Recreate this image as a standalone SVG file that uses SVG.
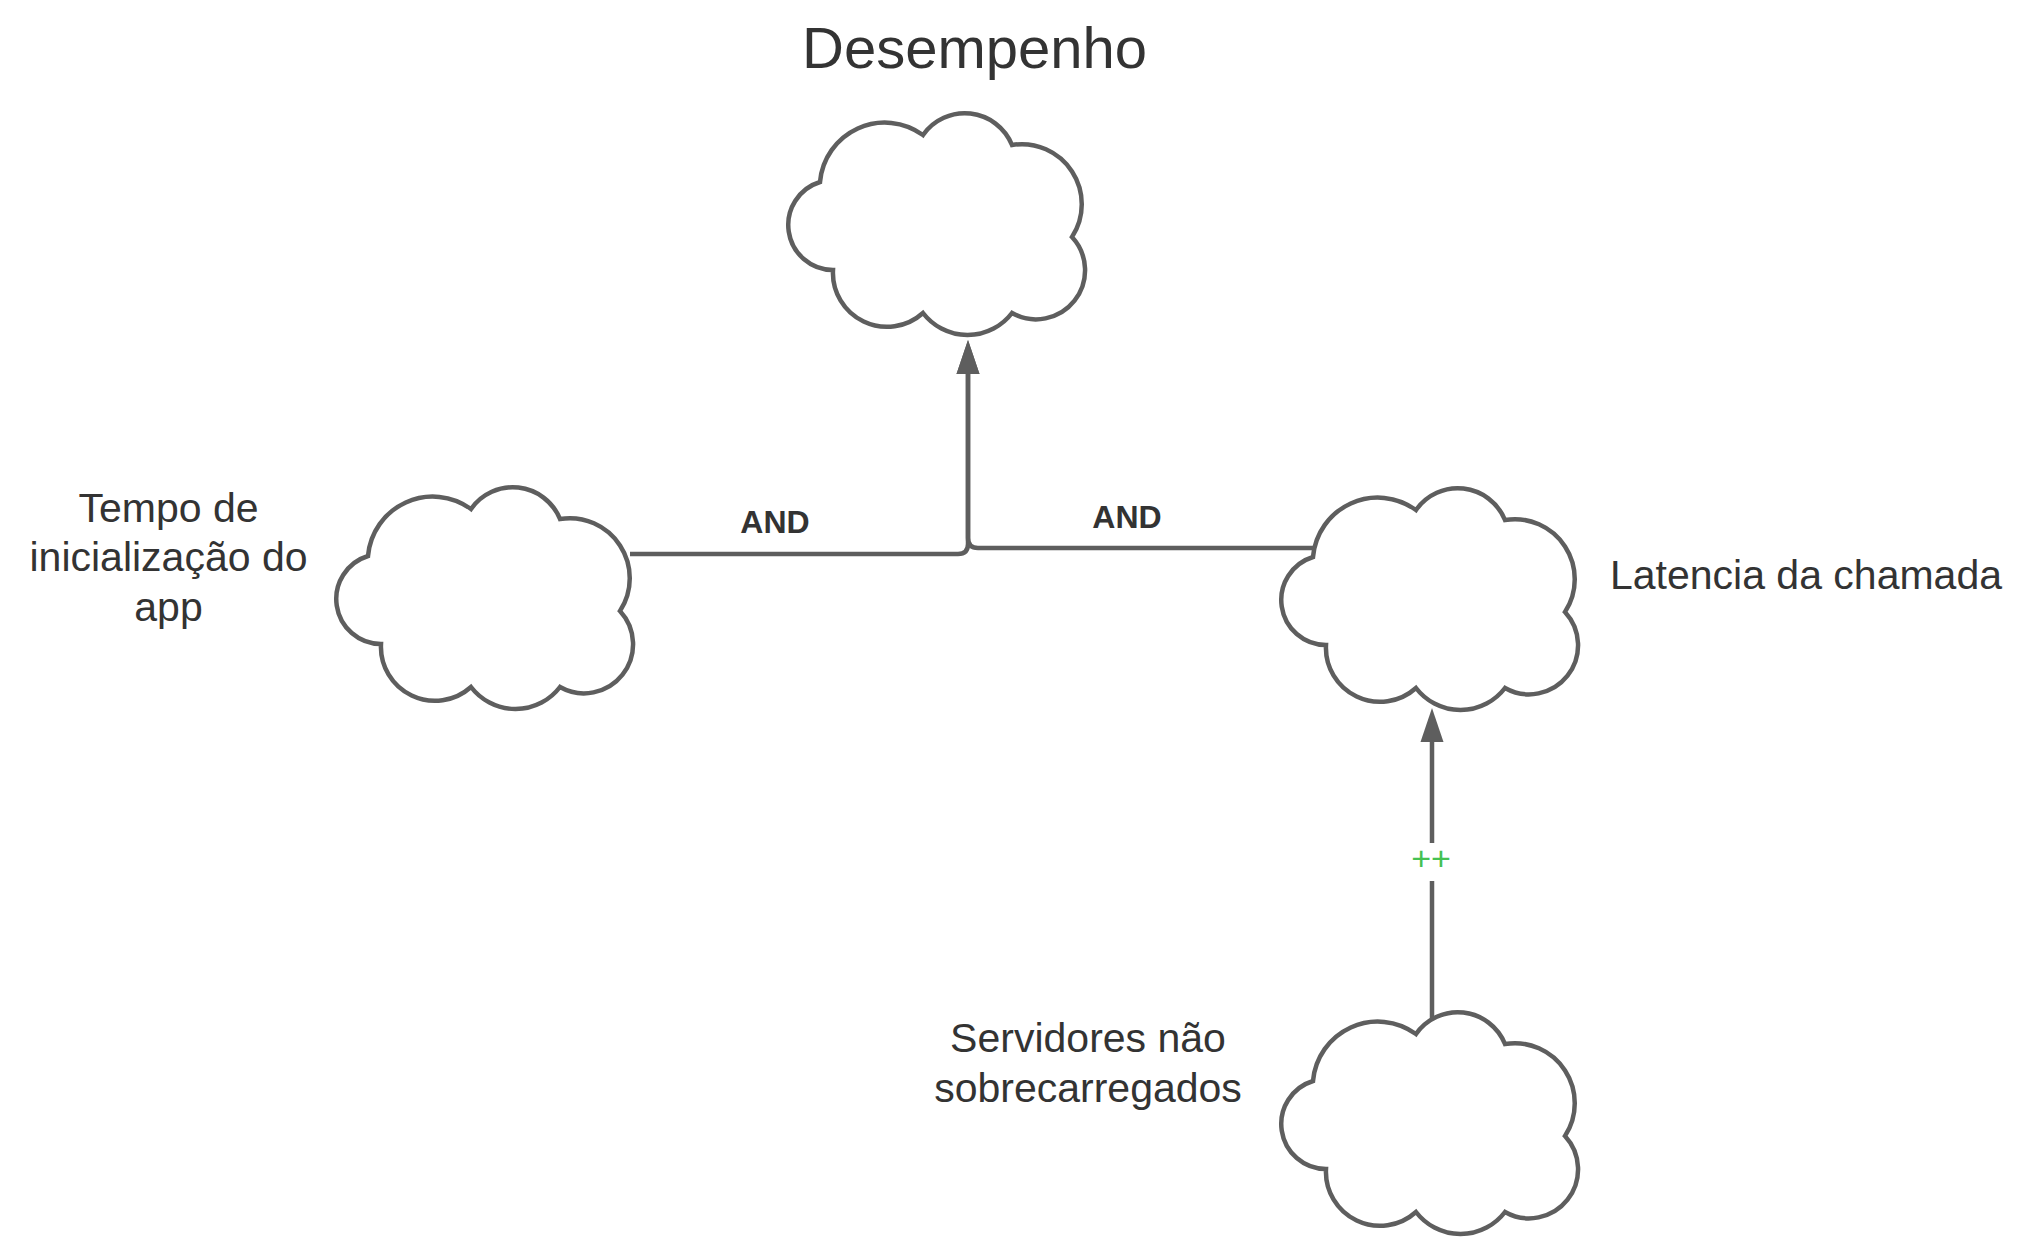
<svg xmlns="http://www.w3.org/2000/svg" xmlns:xlink="http://www.w3.org/1999/xlink" width="2031" height="1239" viewBox="0 0 2031 1239">
  <style>
    .cloud { fill: #ffffff; stroke: #5e5e5e; stroke-width: 4.5; stroke-linejoin: miter; }
    .conn { fill: none; stroke: #5e5e5e; stroke-width: 4.5; }
    .lbl { font-family: "Liberation Sans", Arial, sans-serif; font-size: 41px; fill: #333333; text-anchor: middle; }
    .title { font-family: "Liberation Sans", Arial, sans-serif; font-size: 58px; fill: #333333; text-anchor: middle; }
    .and { font-family: "Liberation Sans", Arial, sans-serif; font-size: 32px; font-weight: bold; fill: #333333; text-anchor: middle; }
    .pp { font-family: "Liberation Sans", Arial, sans-serif; font-size: 34px; fill: #44c152; text-anchor: middle; }
  </style>
  <defs>
    <path id="cloudShape" class="cloud" d="M 33,69 A 65 65 0 0 1 136,22 A 51 51 0 0 1 225,32 A 60 60 0 0 1 285,124 A 49 49 0 0 1 225,200 A 56 56 0 0 1 136,200 A 54 54 0 0 1 46,157 A 45 45 0 0 1 33,69 Z"/>
    <marker id="arrow" markerUnits="userSpaceOnUse" viewBox="0 -12 34 24" refX="0" refY="0" markerWidth="34" markerHeight="24" orient="auto" overflow="visible">
      <path d="M 0,-11.5 L 34,0 L 0,11.5 Z" fill="#5e5e5e"/>
    </marker>
  </defs>
  <rect width="2031" height="1239" fill="#ffffff"/>

  <g id="connectors">
    <path class="conn" d="M 630,554 H 958 Q 968,554 968,544 V 374" marker-end="url(#arrow)"/>
    <path class="conn" d="M 1313,548 H 978 Q 968,548 968,538 V 374" marker-end="url(#arrow)"/>
    <text class="and" x="775" y="533">AND</text>
    <text class="and" x="1127" y="528">AND</text>
    <path class="conn" d="M 1432,1021 V 742" marker-end="url(#arrow)"/>
    <rect x="1410" y="843" width="44" height="38" fill="#ffffff"/>
    <text class="pp" x="1431" y="870">++</text>
  </g>

  <g id="node-desempenho">
    <use xlink:href="#cloudShape" href="#cloudShape" transform="translate(787,113)"/>
    <text class="title" x="974.5" y="68">Desempenho</text>
  </g>

  <g id="node-tempo">
    <use xlink:href="#cloudShape" href="#cloudShape" transform="translate(335,487)"/>
    <text class="lbl" x="168.5" y="522">Tempo de</text>
    <text class="lbl" x="168.5" y="571">inicialização do</text>
    <text class="lbl" x="168.5" y="621">app</text>
  </g>

  <g id="node-latencia">
    <use xlink:href="#cloudShape" href="#cloudShape" transform="translate(1280,488)"/>
    <text class="lbl" x="1806" y="589">Latencia da chamada</text>
  </g>

  <g id="node-servidores">
    <use xlink:href="#cloudShape" href="#cloudShape" transform="translate(1280,1012)"/>
    <text class="lbl" x="1088" y="1052">Servidores não</text>
    <text class="lbl" x="1088" y="1102">sobrecarregados</text>
  </g>
</svg>
